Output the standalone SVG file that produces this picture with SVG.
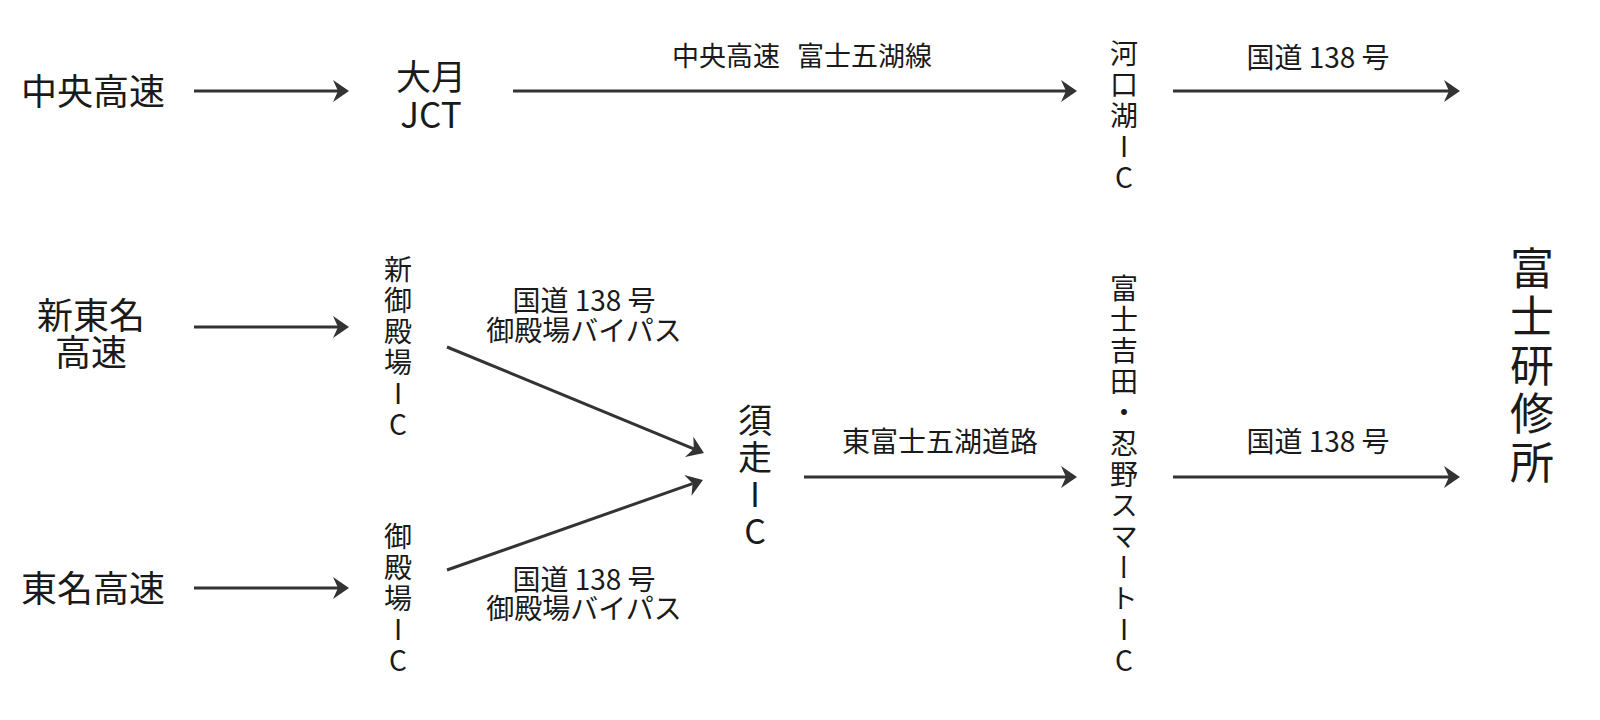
<svg xmlns="http://www.w3.org/2000/svg" width="1600" height="720" viewBox="0 0 1600 720">
<defs>
<style>
text{font-family:"Noto Sans CJK JP","Noto Sans",sans-serif;fill:#1a1a1a;dominant-baseline:central;text-anchor:middle}
.big{font-size:36px}
.mid{font-size:35px}
.lbl{font-size:28px}
.v{writing-mode:vertical-rl;text-orientation:upright;text-anchor:start;font-size:28px;letter-spacing:3px}
.v2{writing-mode:vertical-rl;text-orientation:upright;text-anchor:start;font-size:34px;letter-spacing:3px}
.v3{writing-mode:vertical-rl;text-orientation:upright;text-anchor:start;font-size:44px;letter-spacing:4.5px}
.c{stroke:#333;stroke-width:3;fill:none;marker-end:url(#ah)}
</style>
<marker id="ah" markerUnits="userSpaceOnUse" markerWidth="16" markerHeight="22" viewBox="0 0 16 22" refX="5" refY="11" orient="auto">
<path d="M16,11 L0,0 L5,11 L0,22 Z" fill="#333"/>
</marker>
</defs>
<rect width="1600" height="720" fill="#fff"/>
<g id="connectors">
<line class="c" x1="194" y1="91" x2="338" y2="91"/>
<line class="c" x1="513" y1="91" x2="1066" y2="91"/>
<line class="c" x1="1173" y1="91" x2="1449" y2="91"/>
<line class="c" x1="194" y1="327" x2="338" y2="327"/>
<line class="c" x1="194" y1="588" x2="338" y2="588"/>
<line class="c" x1="447" y1="347" x2="693.8" y2="448.8"/>
<line class="c" x1="447" y1="570" x2="692.6" y2="483.6"/>
<line class="c" x1="804" y1="477" x2="1066" y2="477"/>
<line class="c" x1="1173" y1="477" x2="1449" y2="477"/>
</g>
<g id="edge-labels">
<text class="lbl" x="802" y="54" style="font-size:27px">中央高速 <tspan dx="11">富士五湖線</tspan></text>
<text class="lbl" x="1318" y="56">国道 138 号</text>
<text class="lbl" x="584" y="298.5">国道 138 号</text>
<text class="lbl" x="584" y="328.5">御殿場バイパス</text>
<text class="lbl" x="584" y="577.5">国道 138 号</text>
<text class="lbl" x="584" y="606.5">御殿場バイパス</text>
<text class="lbl" x="940" y="440">東富士五湖道路</text>
<text class="lbl" x="1318" y="440">国道 138 号</text>
</g>
<g id="chuo"><text class="big" x="93" y="89">中央高速</text></g>
<g id="otsuki"><text class="mid" x="431" y="74">大月</text><text class="mid" x="431" y="112">JCT</text></g>
<g id="kawaguchiko"><text class="v" x="1124" y="39">河口湖IC</text></g>
<g id="shintomei"><text class="big" x="91" y="313">新東名</text><text class="big" x="91" y="350">高速</text></g>
<g id="tomei"><text class="big" x="93" y="586">東名高速</text></g>
<g id="shingotemba"><text class="v" x="398" y="255">新御殿場IC</text></g>
<g id="gotemba"><text class="v" x="398" y="522">御殿場IC</text></g>
<g id="subashiri"><text class="v2" x="755" y="403">須走IC</text></g>
<g id="fujiyoshida"><text class="v" x="1124" y="274">富士吉田・忍野スマートIC</text></g>
<g id="fuji-kenshujo"><text class="v3" x="1532" y="246">富士研修所</text></g>
</svg>
